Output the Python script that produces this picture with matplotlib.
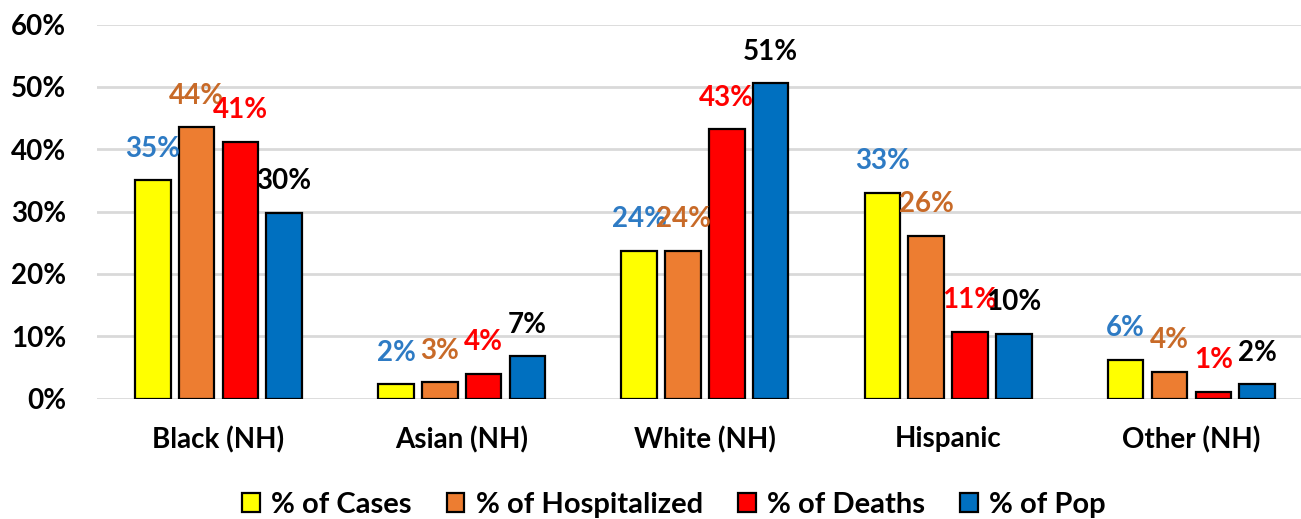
import numpy as np
import matplotlib
matplotlib.use("Agg")
import matplotlib.pyplot as plt
from matplotlib.patches import Patch

plt.rcParams['font.family'] = ['Lato', 'DejaVu Sans']
plt.rcParams['font.weight'] = 'bold'

groups = ["Black (NH)", "Asian (NH)", "White (NH)", "Hispanic", "Other (NH)"]
series = ["% of Cases", "% of Hospitalized", "% of Deaths", "% of Pop"]
cases = [35.0, 2.3, 23.7, 33.0, 6.2]
hosp = [43.5, 2.6, 23.7, 26.1, 4.3]
deaths = [41.2, 4.0, 43.2, 10.7, 1.1]
pop = [29.8, 6.8, 50.6, 10.4, 2.3]

bar_colors = ["#FFFF00", "#ED7D31", "#FF0000", "#0070C0"]
label_colors = ["#2E7BC4", "#C86A28", "#FF0000", "#000000"]

fig = plt.figure(figsize=(13.01, 5.19), dpi=100)
ax = fig.add_axes([96.8 / 1301, 1 - 398.6 / 519, (1313 - 96.8) / 1301, (398.6 - 24.5) / 519])

x = np.arange(len(groups))
width = 0.146
step = 0.18
for i, vals in enumerate([cases, hosp, deaths, pop]):
    v = np.array(vals) / 100
    pos = x + (i - 1.5) * step
    ax.bar(pos, v, width, color=bar_colors[i], edgecolor="black", linewidth=1.6, zorder=3)
    # labels sit above each bar, like Excel's data labels
    for xp, yv, raw in zip(pos, v, vals):
        ax.annotate(f"{raw:.0f}%", (xp, yv), xytext=(0, 22.7), textcoords="offset points",
                    ha="center", va="center", fontsize=20, fontweight="bold",
                    color=label_colors[i], zorder=4)

ax.set_xlim(-0.5, 4.5)
ax.set_ylim(0, 0.6)
ax.set_yticks(np.arange(0, 0.61, 0.1))
ax.set_yticklabels([f"{t}%" for t in range(0, 61, 10)])
ax.set_xticks(x)
ax.set_xticklabels(groups)
ax.tick_params(axis="both", length=0, labelsize=20)
ax.tick_params(axis="y", pad=22)
ax.tick_params(axis="x", pad=20)
ax.grid(axis="y", color="#D9D9D9", linewidth=2, zorder=0)
for s in ax.spines.values():
    s.set_visible(False)

handles = [Patch(facecolor=c, edgecolor="black", linewidth=1.6) for c in bar_colors]
fig.legend(handles, series, loc="center", bbox_to_anchor=(674 / 1301, 1 - 505 / 519),
           ncol=4, frameon=False, fontsize=21, handlelength=0.6, handleheight=0.6,
           handletextpad=0.4, columnspacing=1.2)

fig.savefig("out.png", dpi=100)
